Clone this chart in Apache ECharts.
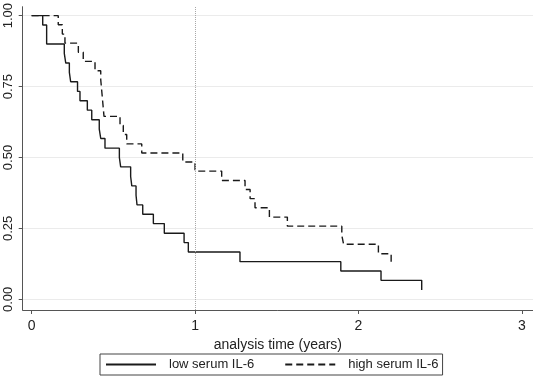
<!DOCTYPE html>
<html>
<head>
<meta charset="utf-8">
<script src="https://cdn.jsdelivr.net/npm/echarts@6/dist/echarts.min.js"></script>
<style>
  html, body { margin: 0; padding: 0; background: #fff; }
  #chart { width: 533px; height: 383px; }
</style>
</head>
<body>
<div id="chart"></div>
<script>
	let chart = echarts.init(document.getElementById('chart'))

	// Kaplan-Meier steps (time in years, survival after drop)
	let lowTime = [0, 0.068, 0.092, 0.200, 0.209, 0.231, 0.239, 0.281, 0.296, 0.341, 0.368, 0.414, 0.423, 0.449,
		0.537, 0.545, 0.606, 0.613, 0.639, 0.645, 0.680, 0.745, 0.812, 0.933, 0.959, 1.275, 1.892, 2.138, 2.387]
	let lowSurv = [1, 0.967, 0.900, 0.867, 0.833, 0.800, 0.767, 0.733, 0.700, 0.667, 0.633, 0.600, 0.567, 0.533,
		0.500, 0.467, 0.433, 0.400, 0.367, 0.333, 0.300, 0.267, 0.233, 0.200, 0.167, 0.133, 0.100, 0.067, 0.033]

	let highTime = [0, 0.163, 0.188, 0.204, 0.286, 0.316, 0.388, 0.423, 0.428, 0.433, 0.438, 0.443, 0.541, 0.561,
		0.582, 0.674, 0.925, 1.000, 1.163, 1.306, 1.337, 1.367, 1.455, 1.565, 1.898, 1.909, 2.122, 2.200]
	let highSurv = [1, 0.968, 0.935, 0.903, 0.871, 0.839, 0.806, 0.774, 0.742, 0.710, 0.677, 0.645, 0.613, 0.581,
		0.548, 0.516, 0.484, 0.452, 0.419, 0.387, 0.355, 0.323, 0.290, 0.258, 0.226, 0.194, 0.161, 0.129]

	let xTicks = [0, 1, 2, 3]
	let yTicks = [0, 0.25, 0.5, 0.75, 1]
	let names = ['low serum IL-6', 'high serum IL-6']

	let lowData = lowTime.map((t, i) => [t, lowSurv[i]])
	let highData = highTime.map((t, i) => [t, highSurv[i]])

	let font = 'Liberation Sans, Arial, sans-serif'
	let axisColor = '#555'

	let option = {
		animation: false,
		backgroundColor: '#fff',
		grid: {
			left: 22.7,
			right: 0,
			top: 5,
			bottom: 73
		},
		xAxis: {
			type: 'value',
			min: -0.0545,
			max: 3.068,
			name: 'analysis time (years)',
			nameLocation: 'middle',
			nameGap: 25,
			nameTextStyle: { fontFamily: font, fontSize: 14, color: '#222' },
			axisLine: { onZero: false, lineStyle: { color: axisColor, width: 1 } },
			axisTick: { customValues: xTicks, length: 4, lineStyle: { color: axisColor } },
			axisLabel: {
				customValues: xTicks,
				margin: 9,
				fontFamily: font,
				fontSize: 14,
				color: '#222'
			},
			splitLine: { show: false }
		},
		yAxis: {
			type: 'value',
			min: -0.0375,
			max: 1.0315,
			axisLine: { show: true, onZero: false, lineStyle: { color: axisColor, width: 1 } },
			axisTick: { show: true, customValues: yTicks, length: 4, lineStyle: { color: axisColor } },
			axisLabel: {
				customValues: yTicks,
				rotate: 90,
				margin: 8,
				fontFamily: font,
				fontSize: 13,
				color: '#222',
				formatter: v => v.toFixed(2)
			},
			splitLine: { show: true, lineStyle: { color: '#ebebeb', width: 1 } }
		},
		legend: {
			data: names,
			left: 100,
			top: 354,
			orient: 'horizontal',
			itemWidth: 50,
			itemHeight: 12,
			itemGap: 30,
			padding: [4, 4, 4, 5],
			borderColor: '#444',
			borderWidth: 1,
			borderRadius: 0,
			itemStyle: { color: 'rgba(0,0,0,0)', borderWidth: 0 },
			textStyle: { fontFamily: font, fontSize: 13, color: '#222', padding: [0, 0, 0, 8] }
		},
		series: [{
				name: names[0],
				type: 'line',
				step: 'end',
				symbol: 'none',
				data: lowData,
				lineStyle: { color: '#1a1a1a', width: 1.4, type: 'solid' },
				itemStyle: { color: '#1a1a1a' },
				markLine: {
					silent: true,
					symbol: 'none',
					label: { show: false },
					lineStyle: { color: '#a8a8a8', type: 'dotted', width: 1 },
					data: [{ xAxis: 1 }]
				}
			},
			{
				name: names[1],
				type: 'line',
				step: 'end',
				symbol: 'none',
				data: highData,
				lineStyle: { color: '#1a1a1a', width: 1.4, type: [7, 4] },
				itemStyle: { color: '#1a1a1a' }
			}
		]
	}

	chart.setOption(option)
</script>
</body>
</html>
